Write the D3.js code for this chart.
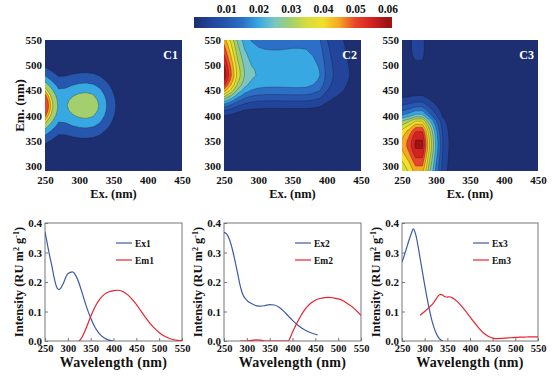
<!DOCTYPE html>
<html><head><meta charset="utf-8">
<script src="https://cdn.jsdelivr.net/npm/d3@7"></script>
<style>
body{margin:0;background:#fff}
svg text{font-family:"Liberation Serif","Times New Roman",serif;font-weight:bold;fill:#111}
</style>
</head><body>
<svg id="c" width="554" height="384"></svg>
<script>
// ---------------- DATA ----------------
// Excitation / emission grid of the EEM contour maps (nm)
const exGrid = [250,260,270,280,290,300,310,320,330,340,350,360,370,380,390,400,410,420,430,440,450];
const emGrid = [290,300,310,320,330,340,350,360,370,380,390,400,410,420,430,440,450,460,470,480,490,500,510,520,530,540,550];

// Component loadings (map = exLoading x emLoading)
const c1ExLoad = [0.059,0.042,0.028,0.029,0.033,0.036,0.037,0.035,0.029,0.020,0.012,0.006,0.003,0.001,0,0,0,0,0,0,0];
const c1EmLoad = [0.005,0.011,0.023,0.044,0.080,0.135,0.216,0.325,0.458,0.607,0.755,0.882,0.969,1.0,0.969,0.882,0.755,0.607,0.458,0.325,0.216,0.135,0.080,0.044,0.023,0.011,0.005];
const c2ExLoad = [0.063,0.051,0.038,0.030,0.026,0.0245,0.024,0.0238,0.0238,0.024,0.0242,0.0242,0.024,0.0225,0.020,0.0135,0.0098,0.0075,0.0055,0.0040,0.0030];
const c2EmLoad = [0,0,0,0,0,0,0,0.005,0.012,0.025,0.045,0.08,0.16,0.28,0.43,0.60,0.76,0.88,0.96,1.0,0.99,0.96,0.92,0.88,0.84,0.80,0.76];
const c3ExLoad = [0.046,0.052,0.061,0.061,0.041,0.024,0.010,0.0045,0.002,0.001,0,0,0,0,0,0,0,0,0,0,0];
const c3EmLoad = [0.78,0.82,0.87,0.92,0.97,1.0,0.99,0.95,0.89,0.78,0.64,0.44,0.32,0.22,0.14,0.08,0.05,0.03,0.02,0.02,0.03,0.06,0.083,0.088,0.09,0.09,0.09];

const c1Levels = [0.01,0.02,0.03,0.04,0.045,0.05];
const c2Levels = [0.005,0.01,0.015,0.02,0.025,0.03,0.035,0.04,0.045,0.05,0.055,0.06];
const c3Levels = [0.005,0.01,0.015,0.02,0.025,0.03,0.035,0.04,0.045,0.05,0.055,0.06];

// colour map
const cmapValues = [0,0.005,0.01,0.015,0.02,0.025,0.03,0.035,0.04,0.045,0.05,0.055,0.06];
const cmapColors = ["#1d2f70","#22449a","#2656ad","#2d6fc6","#38a8e2","#79c7c0","#a3cf6e","#d7dc3c","#f2e02a","#f5a623","#e8452a","#d42222","#9c1414"];
const cbTicks = [0.01,0.02,0.03,0.04,0.05,0.06];

// tick labels
const exTicks = [250,300,350,400,450];
const emTicks = [300,350,400,450,500,550];
const wlTicks = [250,300,350,400,450,500,550];
const intTicks = [0,0.1,0.2,0.3,0.4];

// spectra (bottom row)
const ex1Wl  = [250,255,260,265,270,275,280,285,290,300,310,320,330,340,350,360,370,380,390,400];
const ex1Val = [0.37,0.33,0.29,0.255,0.215,0.185,0.174,0.18,0.195,0.228,0.234,0.214,0.170,0.120,0.078,0.045,0.023,0.010,0.003,0.0];
const em1Wl  = [325,330,340,350,360,370,380,390,400,410,420,430,440,450,460,470,480,490,500,510,520,530,540,550];
const em1Val = [0,0.01,0.043,0.083,0.117,0.142,0.158,0.167,0.171,0.172,0.168,0.158,0.143,0.124,0.102,0.080,0.060,0.043,0.029,0.018,0.010,0.005,0.002,0.001];

const ex2Wl  = [250,255,260,265,270,275,280,285,290,300,310,320,330,340,350,360,370,380,390,400,410,420,430,440,450,455];
const ex2Val = [0.368,0.364,0.352,0.33,0.30,0.265,0.228,0.19,0.162,0.138,0.127,0.12,0.118,0.12,0.123,0.122,0.115,0.102,0.086,0.07,0.056,0.044,0.035,0.028,0.023,0.021];
const em2Wl  = [285,290,300,310,320,330,340,350,360,370,380,390,400,410,420,430,440,450,460,470,480,490,500,510,520,530,540,550];
const em2Val = [0,0,0,0.002,0.004,0.003,0,0,0,0,0,0,0.03,0.062,0.09,0.112,0.128,0.138,0.144,0.147,0.148,0.146,0.143,0.137,0.127,0.117,0.103,0.087];

const ex3Wl  = [250,255,260,265,270,275,280,285,290,295,300,305,310,315,320,325,330,335,340];
const ex3Val = [0.268,0.29,0.315,0.34,0.362,0.38,0.362,0.325,0.28,0.235,0.19,0.148,0.11,0.075,0.048,0.028,0.013,0.004,0.0];
const em3Wl  = [290,300,310,320,325,330,335,340,345,350,355,360,365,370,380,390,400,410,420,430,440,450,460,470,480,490,500,510,520,530,540,550];
const em3Val = [0.087,0.10,0.114,0.13,0.142,0.153,0.158,0.155,0.150,0.149,0.150,0.147,0.142,0.136,0.121,0.102,0.082,0.062,0.043,0.027,0.016,0.010,0.008,0.009,0.010,0.011,0.012,0.013,0.013,0.014,0.014,0.014];

// ---------------- DRAW ----------------
const svg = d3.select("#c");
const defs = svg.append("defs");
const color = d3.scaleLinear().domain(cmapValues).range(cmapColors).clamp(true);

// colour bar
const cbScale = d3.scaleLinear().domain([0,0.0614]).range([194,392]);
const grad = defs.append("linearGradient").attr("id","cbgrad").attr("x1","0").attr("x2","1").attr("y1","0").attr("y2","0");
cmapValues.forEach(v => grad.append("stop").attr("offset", v/0.0614).attr("stop-color", color(v)));
svg.append("rect").attr("x",cbScale(0)).attr("y",17).attr("width",cbScale(0.0614)-cbScale(0)).attr("height",11).attr("fill","url(#cbgrad)");
const cbAx = svg.append("g").attr("transform","translate(0,17)")
  .call(d3.axisTop(cbScale).tickValues(cbTicks).tickSize(0).tickPadding(4).tickFormat(d3.format(".2f")));
cbAx.select(".domain").remove();
cbAx.selectAll("text").attr("font-size",11.5).attr("font-family",null);

// contour panels
const topY0 = 40, topY1 = 171;
const maps = [
  {x0:45,  x1:182, ex:c1ExLoad, em:c1EmLoad, levels:c1Levels, label:"C1", title:true},
  {x0:224, x1:361, ex:c2ExLoad, em:c2EmLoad, levels:c2Levels, label:"C2", title:false},
  {x0:402, x1:538, ex:c3ExLoad, em:c3EmLoad, levels:c3Levels, label:"C3", title:false}
];
maps.forEach((p,i) => {
  const xs = d3.scaleLinear().domain([250,450]).range([p.x0,p.x1]);
  const ys = d3.scaleLinear().domain([290,550]).range([topY1,topY0]);
  const nx = exGrid.length, ny = emGrid.length;
  const values = new Array(nx*ny);
  for (let j=0;j<ny;j++) for (let k=0;k<nx;k++) values[j*nx+k] = p.ex[k]*p.em[j];
  const exStep = exGrid[1]-exGrid[0], emStep = emGrid[1]-emGrid[0];
  const proj = d3.geoTransform({point(x,y){
    this.stream.point(xs(exGrid[0]+(x-0.5)*exStep), ys(emGrid[0]+(y-0.5)*emStep));
  }});
  const path = d3.geoPath(proj);
  defs.append("clipPath").attr("id","clip"+i).append("rect")
    .attr("x",p.x0).attr("y",topY0).attr("width",p.x1-p.x0).attr("height",topY1-topY0);
  const g = svg.append("g").attr("clip-path",`url(#clip${i})`);
  g.append("rect").attr("x",p.x0).attr("y",topY0).attr("width",p.x1-p.x0).attr("height",topY1-topY0).attr("fill",color(0));
  const cs = d3.contours().size([nx,ny]).thresholds(p.levels)(values);
  g.selectAll("path").data(cs).join("path")
    .attr("d",path).attr("fill",d=>color(d.value))
    .attr("stroke","#111").attr("stroke-opacity",0.55).attr("stroke-width",0.5);

  const ax = svg.append("g").attr("transform",`translate(0,${topY1})`)
    .call(d3.axisBottom(xs).tickValues(exTicks).tickSize(0).tickPadding(5));
  ax.select(".domain").remove();
  ax.selectAll("text").attr("font-size",11).attr("font-family",null);
  const ay = svg.append("g").attr("transform",`translate(${p.x0},0)`)
    .call(d3.axisLeft(ys).tickValues(emTicks).tickSize(0).tickPadding(3));
  ay.select(".domain").remove();
  ay.selectAll("text").attr("font-size",11).attr("font-family",null);

  svg.append("text").attr("x",(p.x0+p.x1)/2).attr("y",198).attr("text-anchor","middle")
    .attr("font-size",12.5).text("Ex. (nm)");
  if (p.title) {
    svg.append("text").attr("transform",`translate(${p.x0-21},${(topY0+topY1)/2}) rotate(-90)`)
      .attr("text-anchor","middle").attr("font-size",13).text("Em. (nm)");
  }
  svg.append("text").attr("x",p.x1-4).attr("y",59).attr("text-anchor","end")
    .attr("font-size",12).style("fill","#fff").text(p.label);
});

// spectra panels
const botY0 = 223, botY1 = 341;
const specs = [
  {x0:45,  x1:182, exWl:ex1Wl, exVal:ex1Val, emWl:em1Wl, emVal:em1Val, exName:"Ex1", emName:"Em1"},
  {x0:224, x1:361, exWl:ex2Wl, exVal:ex2Val, emWl:em2Wl, emVal:em2Val, exName:"Ex2", emName:"Em2"},
  {x0:402, x1:538, exWl:ex3Wl, exVal:ex3Val, emWl:em3Wl, emVal:em3Val, exName:"Ex3", emName:"Em3"}
];
const blue = "#3b5ca3", red = "#e8232e";
specs.forEach((p,i) => {
  const xs = d3.scaleLinear().domain([250,550]).range([p.x0,p.x1]);
  const ys = d3.scaleLinear().domain([0,0.4]).range([botY1,botY0]);
  defs.append("clipPath").attr("id","bclip"+i).append("rect")
    .attr("x",p.x0).attr("y",botY0-2).attr("width",p.x1-p.x0).attr("height",botY1-botY0+2);

  const ax = svg.append("g").attr("transform",`translate(0,${botY1})`)
    .call(d3.axisBottom(xs).tickValues(wlTicks).tickSizeInner(-3).tickSizeOuter(0).tickPadding(4));
  ax.select(".domain").remove();
  ax.selectAll("line").attr("stroke","#777");
  ax.selectAll("text").attr("font-size",10.5).attr("font-family",null);
  const ay = svg.append("g").attr("transform",`translate(${p.x0},0)`)
    .call(d3.axisLeft(ys).tickValues(intTicks).tickSizeInner(-3).tickSizeOuter(0).tickPadding(3).tickFormat(d3.format(".1f")));
  ay.select(".domain").remove();
  ay.selectAll("line").attr("stroke","#777");
  ay.selectAll("text").attr("font-size",11).attr("font-family",null);

  svg.append("rect").attr("x",p.x0).attr("y",botY0).attr("width",p.x1-p.x0).attr("height",botY1-botY0)
    .attr("fill","none").attr("stroke","#777").attr("stroke-width",1);

  const g = svg.append("g").attr("clip-path",`url(#bclip${i})`);
  const line = d3.line().x(d=>xs(d[0])).y(d=>ys(d[1])).curve(d3.curveMonotoneX);
  g.append("path").attr("d",line(d3.zip(p.exWl,p.exVal))).attr("fill","none").attr("stroke",blue).attr("stroke-width",1.2);
  g.append("path").attr("d",line(d3.zip(p.emWl,p.emVal))).attr("fill","none").attr("stroke",red).attr("stroke-width",1.2);

  // legend
  const lx = p.x0+71;
  [[p.exName,blue,243],[p.emName,red,260]].forEach(([n,c,y]) => {
    svg.append("line").attr("x1",lx).attr("x2",lx+16).attr("y1",y).attr("y2",y).attr("stroke",c).attr("stroke-width",1.2);
    svg.append("text").attr("x",lx+19).attr("y",y+3.5).attr("font-size",9.5).text(n);
  });

  svg.append("text").attr("x",(p.x0+p.x1)/2).attr("y",367).attr("text-anchor","middle")
    .attr("font-size",14).style("letter-spacing","0.3px").text("Wavelength (nm)");

  const t = svg.append("text").attr("transform",`translate(${p.x0-22},${(botY0+botY1)/2}) rotate(-90)`)
    .attr("text-anchor","middle").attr("font-size",12.5);
  t.append("tspan").text("Intensity (RU m");
  t.append("tspan").attr("dy",-4.5).attr("font-size",8).text("2");
  t.append("tspan").attr("dy",4.5).text(" g");
  t.append("tspan").attr("dy",-4.5).attr("font-size",8).text("-1");
  t.append("tspan").attr("dy",4.5).text(")");
});
</script>
</body></html>
